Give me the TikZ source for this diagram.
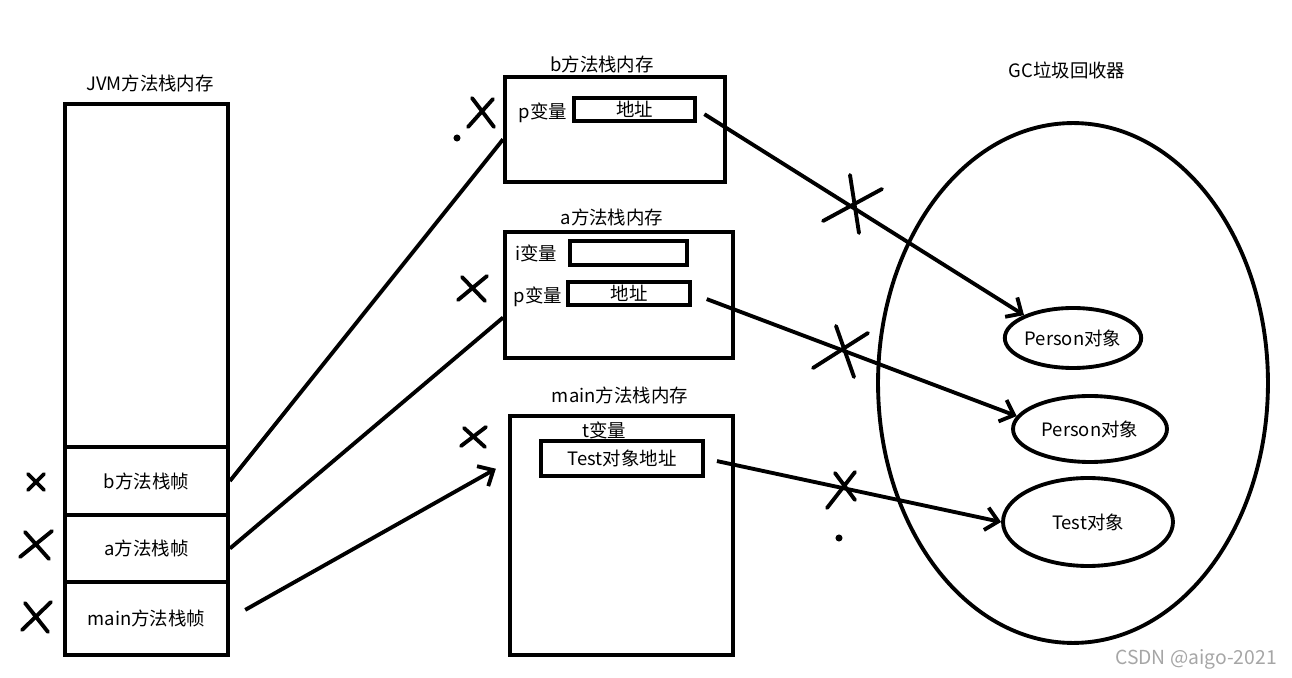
\documentclass[tikz,border=0pt]{standalone}
\usepackage{fontspec}
\setmainfont{Noto Sans CJK SC}
\usetikzlibrary{arrows.meta,shapes.geometric}

\begin{document}
\begin{tikzpicture}[x=0.02cm, y=-0.02cm,
    every node/.style={font=\fontsize{10.5}{12}\selectfont},
    box/.style={draw, line width=2.2pt, inner sep=0pt},
    oval/.style={draw, ellipse, line width=2.2pt, inner sep=0pt},
    link/.style={line width=2.2pt},
    ptr/.style={line width=2.2pt, -{Straight Barb[length=7pt, width=13pt]}},
    cross/.style={line width=2.2pt, line cap=round}]
    \useasboundingbox (0,0) rectangle (1292,678);

    % JVM方法栈
    \node (jvmt) at (150,83) {JVM方法栈内存};
    \node[box, minimum width=3.26cm, minimum height=6.86cm] (jvm) at (146.5,275.5) {};
    \node[box, minimum width=3.26cm, minimum height=1.36cm] (bframe) at (146.5,481) {b方法栈帧};
    \node[box, minimum width=3.26cm, minimum height=1.34cm] (aframe) at (146.5,548.5) {a方法栈帧};
    \node[box, minimum width=3.26cm, minimum height=1.46cm] (mframe) at (146.5,618.5) {main方法栈帧};

    % b方法栈内存
    \node (bmemt) at (602,64) {b方法栈内存};
    \node[box, minimum width=4.4cm, minimum height=2.1cm] (bmem) at (615,129.5) {};
    \node (bp) at (543,113) {p变量};
    \node[box, minimum width=2.42cm, minimum height=0.46cm] (baddr) at (634.5,109.5) {地址};

    % a方法栈内存
    \node (amemt) at (612,217) {a方法栈内存};
    \node[box, minimum width=4.56cm, minimum height=2.52cm] (amem) at (619,295) {};
    \node (ai) at (536,253) {i变量};
    \node[box, minimum width=2.34cm, minimum height=0.48cm] (aival) at (628.5,253) {};
    \node (ap) at (538,297) {p变量};
    \node[box, minimum width=2.44cm, minimum height=0.46cm] (apaddr) at (629,293.5) {地址};

    % main方法栈内存
    \node (mmemt) at (620,395) {main方法栈内存};
    \node[box, minimum width=4.46cm, minimum height=4.78cm] (mmem) at (621.5,535.5) {};
    \node (mt) at (604,430) {t变量};
    \node[box, minimum width=3.24cm, minimum height=0.7cm] (taddr) at (622,458.5) {Test对象地址};

    % GC垃圾回收器
    \node (gct) at (1067,70) {GC垃圾回收器};
    \node[oval, minimum width=7.8cm, minimum height=10.4cm] (gc) at (1073,383) {};
    \node[oval, minimum width=2.52cm, minimum height=1.2cm] (p1) at (1073,338) {Person对象};
    \node[oval, minimum width=3.08cm, minimum height=1.32cm] (p2) at (1090,429) {Person对象};
    \node[oval, minimum width=3.4cm, minimum height=1.76cm] (tobj) at (1088,522) {Test对象};

    % 栈帧 -> 栈内存
    \draw[link] (bframe.east) -- (bmem.185);
    \draw[link] (aframe.east) -- (amem.191);
    \draw[ptr, shorten <=10pt, shorten >=8pt] (mframe.east) -- (mmem.147);

    % 地址 -> 对象
    \draw[ptr, shorten <=5pt] (baddr.east) -- (p1.155);
    \draw[ptr, shorten <=9pt] (apaddr.east) -- (p2.170);
    \draw[ptr, shorten <=7pt] (taddr.east) -- (tobj.west);

    % 叉号
    \draw[cross] (28,474) -- (44,490) (44,474) -- (28,490);
    \draw[cross] (20,557) -- (52,531) (25,532) -- (49,559);
    \draw[cross] (22,630) -- (51,602) (25,603) -- (48,632);
    \draw[cross] (468,127) -- (493,99) (472,98) -- (494,127);
    \draw[cross] (458,300) -- (487,276) (462,277) -- (485,301);
    \draw[cross] (461,446) -- (486,427) (464,428) -- (485,447);
    \draw[cross] (823,221) -- (882,189) (850,175) -- (859,233);
    \draw[cross] (813,368) -- (868,333) (836,326) -- (854,377);
    \draw[cross] (827,508) -- (855,472) (835,473) -- (855,500);
    \fill (457,138) circle (2pt);
    \fill (839,538) circle (2pt);

    % 水印
    \node[text=black!35, font=\fontsize{11}{12}\selectfont] (mark) at (1196,659) {CSDN @aigo-2021};
\end{tikzpicture}
\end{document}
